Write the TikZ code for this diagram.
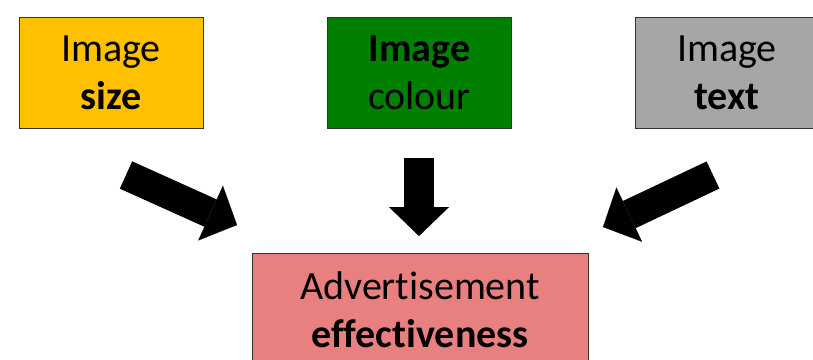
\documentclass[tikz,border=0pt]{standalone}
\usepackage{fontspec}
\setmainfont[Ligatures=NoCommon]{Carlito}
\usetikzlibrary{arrows.meta}
\definecolor{sizeyellow}{RGB}{255,192,0}
\definecolor{colourgreen}{RGB}{0,128,0}
\definecolor{textgray}{RGB}{166,166,166}
\definecolor{effpink}{RGB}{232,128,128}
\begin{document}
\begin{tikzpicture}[x=1pt, y=-1pt,
  box/.style={draw=black!80, line width=1pt, rectangle, minimum width=184pt, minimum height=111pt, align=center, inner sep=0pt, font=\fontsize{40}{48}\selectfont},
  bigarrow/.style={line width=30pt, -{Triangle[width=60pt, length=29pt, line width=0.1pt]}}]
  \useasboundingbox (0,0) rectangle (813,359);
  % Nodes
  \node[box, fill=sizeyellow] (size) at (111,72.5) {Image\\\textbf{size}};
  \node[box, fill=colourgreen] (colour) at (419.5,72.5) {\textbf{Image}\\colour};
  \node[box, fill=textgray] (text) at (727,72.5) {Image\\\textbf{text}};
  \node[box, fill=effpink, minimum width=336pt, minimum height=114pt] (eff) at (420,310) {Advertisement\\\textbf{effectiveness}};

  % Edges
  \coordinate (sizetail) at (126,175);
  \coordinate (sizetip) at (237,225);
  \coordinate (colourtail) at (419,158);
  \coordinate (colourtip) at (419,236);
  \coordinate (texttail) at (713,175);
  \coordinate (texttip) at (603,227);
  \draw[bigarrow] (sizetail) -- (sizetip);
  \draw[bigarrow] (colourtail) -- (colourtip);
  \draw[bigarrow] (texttail) -- (texttip);
\end{tikzpicture}
\end{document}
